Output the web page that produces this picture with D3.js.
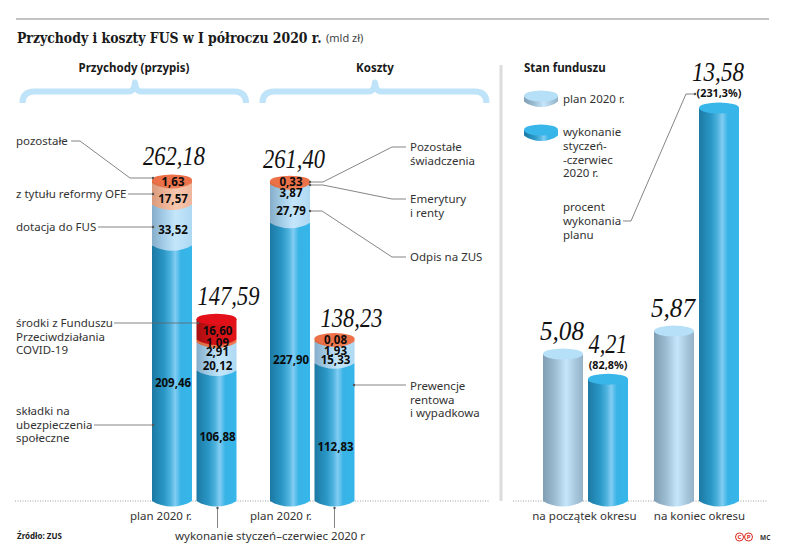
<!DOCTYPE html>
<html lang="pl"><head><meta charset="utf-8">
<script src="https://cdn.jsdelivr.net/npm/d3@7"></script>
<style>
html,body{margin:0;padding:0;background:#fff}
svg{display:block}
text{font-family:"Noto Sans",sans-serif;fill:#333}
</style></head><body><svg id="c" width="788" height="547"></svg>
<script>
// ---------- data ----------
const bars = ["przychodyPlan","przychodyWyk","kosztyPlan","kosztyWyk"];
const przychodyPlan = [209.46,33.52,17.57,1.63];
const przychodyWyk  = [106.88,20.12,2.91,1.09,16.60];
const kosztyPlan    = [227.90,27.79,3.87,0.33];
const kosztyWyk     = [112.83,15.33,1.93,0.08];
const przychodyPlanKinds = ["blue","light","peach","orange"];
const przychodyWykKinds  = ["blue","light","light","orange","red"];
const kosztyPlanKinds    = ["blue","light","light","orange"];
const kosztyWykKinds     = ["blue","light","light","orange"];
const totals = ["262,18","147,59","261,40","138,23"];
const stanPlan = [5.08,5.87];
const stanWyk  = [4.21,13.58];
const stanPct  = ["(82,8%)","(231,3%)"];
const stanGroups = ["na początek okresu","na koniec okresu"];
const fmt = v => d3.format(".2f")(v).replace(".",",");

// ---------- scales ----------
const BASE = 501, BW = 40, RX = 20, RY = 5.5, MINSEG = 3;
const yL = d3.scaleLinear().domain([0,262.18]).range([BASE,BASE-320]);
const yR = d3.scaleLinear().domain([0,13.58]).range([BASE,BASE-393]);
const xGroupL = d3.scalePoint().domain(["Przychody","Koszty"]).range([152,270]);
const xInnerL = d3.scalePoint().domain(["plan","wyk"]).range([0,44.5]);
const xGroupR = d3.scalePoint().domain(stanGroups).range([543,654]);
const xInnerR = d3.scalePoint().domain(["plan","wyk"]).range([0,45]);

const svg = d3.select("#c");
const defs = svg.append("defs");
function grad(id,stops){
  const g = defs.append("linearGradient").attr("id",id).attr("x1",0).attr("x2",1).attr("y1",0).attr("y2",0);
  stops.forEach(([o,c])=>g.append("stop").attr("offset",o).attr("stop-color",c));
}
grad("blue",[[0,"#1c79a3"],[.3,"#2a97c6"],[.47,"#4fb3de"],[.58,"#82cdf3"],[.72,"#38b3e6"],[1,"#36b6ea"]]);
grad("light",[[0,"#86adc9"],[.3,"#a3cde8"],[.58,"#c4e6fb"],[1,"#aed8f2"]]);
grad("plan",[[0,"#7f9db3"],[.3,"#9cbcd2"],[.58,"#c6e6fb"],[.8,"#a9c9df"],[1,"#94b2c8"]]);
grad("peach",[[0,"#d99a7c"],[.35,"#eeb497"],[.6,"#f6c8ae"],[1,"#efb59a"]]);
grad("orange",[[0,"#d9683f"],[.5,"#ee7d55"],[1,"#ec7650"]]);
grad("red",[[0,"#a80e10"],[.4,"#cf1115"],[1,"#e2151a"]]);
const capColor = {blue:"#38b6e9",light:"#b6dff8",plan:"#b6dff8",peach:"#f2b89c",orange:"#ec7048",red:"#e3101a"};

// base layers
svg.append("line").attr("x1",16).attr("x2",769).attr("y1",19).attr("y2",19).attr("stroke","#8a8a8a").attr("stroke-width",1.2);
svg.append("line").attr("x1",501).attr("x2",501).attr("y1",65).attr("y2",501).attr("stroke","#dcdcdc").attr("stroke-width",3);
[[15,489],[513,767]].forEach(([a,b])=>svg.append("line").attr("x1",a).attr("x2",b).attr("y1",501).attr("y2",501)
  .attr("stroke","#888").attr("stroke-width",.8).attr("stroke-dasharray","1 1.5"));

function T(x,y,s,o={}){
  const t = svg.append("text").attr("x",x).attr("y",y).text(s)
    .attr("font-size",o.size||11.5).attr("text-anchor",o.anchor||"start")
    .attr("font-weight",o.weight||400).style("font-family",o.family||null)
    .style("font-style",o.style||null).style("fill",o.fill||null);
  if(o.len){
    // squeeze horizontally to the wanted width, the text box follows
    const sx = o.len / t.node().getComputedTextLength();
    t.attr("x",0).attr("y",0).attr("transform",`translate(${x},${y}) scale(${sx},1)`);
  }
  return t;
}
// title
T(17,43,"Przychody i koszty FUS w I półroczu 2020 r.",{size:15.5,weight:700,family:"'DejaVu Serif',serif",fill:"#1a1a1a",len:305});
T(326,42,"(mld zł)",{size:11,fill:"#444"});
// section heads
T(134,72,"Przychody (przypis)",{size:11.5,weight:700,anchor:"middle",fill:"#1a1a1a"});
T(375,72,"Koszty",{size:11.5,weight:700,anchor:"middle",fill:"#1a1a1a"});
T(524,72,"Stan funduszu",{size:11.5,weight:700,fill:"#1a1a1a"});
// braces
function brace(a,m,b){
  const t=91.5;
  const p=d3.path();
  p.moveTo(a,103); p.quadraticCurveTo(a,t,a+12,t); p.lineTo(m-6,t);
  p.quadraticCurveTo(m-1,t,m,t-9); p.quadraticCurveTo(m+1,t,m+6,t);
  p.lineTo(b-12,t); p.quadraticCurveTo(b,t,b,103);
  svg.append("path").attr("d",p.toString()).attr("fill","none").attr("stroke","#bfe3f9").attr("stroke-width",6).attr("stroke-linejoin","round");
}
brace(22.5,135,246); brace(262.5,375,486.5);

// cylinder
function segPath(x,yt,yb){
  const p=d3.path();
  p.moveTo(x,yt); p.lineTo(x,yb);
  p.bezierCurveTo(x+RX*.55,yb+RY*1.33,x+BW-RX*.55,yb+RY*1.33,x+BW,yb);
  p.lineTo(x+BW,yt); p.closePath();
  return p.toString();
}
function drawCyl(x,segs,capKind){
  segs.forEach(s=>svg.append("path").attr("d",segPath(x,s.yt,s.yb)).attr("fill",`url(#${s.kind})`));
  const top=segs[segs.length-1].yt;
  svg.append("ellipse").attr("cx",x+RX).attr("cy",top).attr("rx",RX).attr("ry",RY).attr("fill",capColor[capKind]);
  return top;
}
function stack(values,kinds,y){
  let cur=y(0), acc=0, out=[];
  values.forEach((v,i)=>{
    const h=Math.max(y(acc)-y(acc+v),MINSEG);
    out.push({kind:kinds[i],yb:cur,yt:cur-h,v}); cur-=h; acc+=v;
  });
  return out;
}
const leftBars=[
 {x:xGroupL("Przychody")+xInnerL("plan"),v:przychodyPlan,k:przychodyPlanKinds,t:totals[0],dx:2,dy:15,ly:[387,234,203,186]},
 {x:xGroupL("Przychody")+xInnerL("wyk"),v:przychodyWyk,k:przychodyWykKinds,t:totals[1],dx:12,dy:14.5,ly:[441,370,356,347,335]},
 {x:xGroupL("Koszty")+xInnerL("plan"),v:kosztyPlan,k:kosztyPlanKinds,t:totals[2],dx:4,dy:13,ly:[364,215,197,186]},
 {x:xGroupL("Koszty")+xInnerL("wyk"),v:kosztyWyk,k:kosztyWykKinds,t:totals[3],dx:17,dy:11.5,ly:[451,364,355,344]}
];
const TOTALFONT="'Liberation Serif',serif";
function total(cx,y,s,w){
  const t=T(cx-w/2,y,s,{size:27,style:"italic",family:TOTALFONT,fill:"#111",len:w});
  return t;
}
leftBars.forEach(b=>{
  const segs=stack(b.v,b.k,yL);
  const top=drawCyl(b.x,segs,b.k[b.k.length-1]);
  total(b.x+RX+b.dx,top-b.dy,b.t,62);
  b.v.forEach((v,i)=>T(b.x+RX+1,b.ly[i],fmt(v),{size:11.5,weight:700,anchor:"middle",fill:"#0b0b0b"}));
});
// right panel
stanGroups.forEach((g,i)=>{
  const xp=xGroupR(g)+xInnerR("plan"), xw=xGroupR(g)+xInnerR("wyk");
  const tp=drawCyl(xp,[{kind:"plan",yb:BASE,yt:yR(stanPlan[i])}],"plan");
  const tw=drawCyl(xw,[{kind:"blue",yb:BASE,yt:yR(stanWyk[i])}],"blue");
  total(xp+RX-1,tp-14,fmt(stanPlan[i]),44);
  total(xw+RX-(i?1:0),tw-(i?27:26),fmt(stanWyk[i]),i?52:39);
  T(xw+RX,tw-(i?11:10),stanPct[i],{size:10.8,weight:700,anchor:"middle",fill:"#111"});
});
T(584.5,520,stanGroups[0],{size:11.5,anchor:"middle"});
T(699.5,520,stanGroups[1],{size:11.5,anchor:"middle"});

// legend disks
function disk(x,y,kind){
  const p=d3.path(),w=34,h=5.5,t=5.5;
  p.moveTo(x,y); p.lineTo(x,y+t);
  p.bezierCurveTo(x+9,y+t+h*1.33,x+w-9,y+t+h*1.33,x+w,y+t);
  p.lineTo(x+w,y); p.closePath();
  svg.append("path").attr("d",p.toString()).attr("fill",`url(#${kind})`);
  svg.append("ellipse").attr("cx",x+w/2).attr("cy",y).attr("rx",w/2).attr("ry",h).attr("fill",capColor[kind]);
}
disk(524,96,"plan"); disk(524,130,"blue");
T(563,103,"plan 2020 r.");
["wykonanie","styczeń-","-czerwiec","2020 r."].forEach((s,i)=>T(563,136+i*13.8,s));
["procent","wykonania","planu"].forEach((s,i)=>T(563,211+i*13.8,s));

// left texts
T(16,145,"pozostałe");
T(16,198,"z tytułu reformy OFE");
T(16,231,"dotacja do FUS");
["środki z Funduszu","Przeciwdziałania","COVID-19"].forEach((s,i)=>T(16,327+i*13.7,s));
["składki na","ubezpieczenia","społeczne"].forEach((s,i)=>T(16,415+i*13.7,s));
["Pozostałe","świadczenia"].forEach((s,i)=>T(410,151+i*13.8,s));
["Emerytury","i renty"].forEach((s,i)=>T(410,203+i*13.8,s));
T(410,261,"Odpis na ZUS");
["Prewencje","rentowa","i wypadkowa"].forEach((s,i)=>T(410,390+i*13.6,s));
T(130,520,"plan 2020 r.",{size:11.5});
T(250,520,"plan 2020 r.",{size:11.5});
T(175,540,"wykonanie styczeń–czerwiec 2020 r",{size:11.5});
T(17,539,"Źródło: ZUS",{size:8,weight:700,fill:"#222"});

// leaders
const line=d3.line();
function lead(pts,dotStart){
  svg.append("path").attr("d",line(pts)).attr("fill","none").attr("stroke","#666").attr("stroke-width",.8);
  const e=dotStart?pts[0]:pts[pts.length-1];
  svg.append("circle").attr("cx",e[0]).attr("cy",e[1]).attr("r",1.2).attr("fill","#555");
}
lead([[71,141],[80,141],[130,178],[153,178]]);
lead([[128,194],[153,194]]);
lead([[98,227],[153,227]]);
lead([[114,323],[198,323]]);
lead([[94,425],[153,425]]);
lead([[310,182],[323,182],[392,147],[406,147]],true);
lead([[310,185],[323,185],[392,199],[406,199]],true);
lead([[310,211],[322,211],[392,257],[406,257]],true);
lead([[354,385],[406,385]],true);
lead([[623,221],[631,221],[686,94],[695,94]]);
lead([[217.5,528],[217.5,508]]);
lead([[334.5,528],[334.5,508]]);

// credit
[[739.5,"C"],[748.5,"P"]].forEach(([x,s])=>{
  svg.append("circle").attr("cx",x).attr("cy",537).attr("r",4).attr("fill","none").attr("stroke","#d8261c").attr("stroke-width",1);
  T(x,539.2,s,{size:6,weight:700,anchor:"middle",fill:"#d8261c"});
});
T(760,540,"MC",{size:6.5,weight:700,fill:"#333"});
</script></body></html>
